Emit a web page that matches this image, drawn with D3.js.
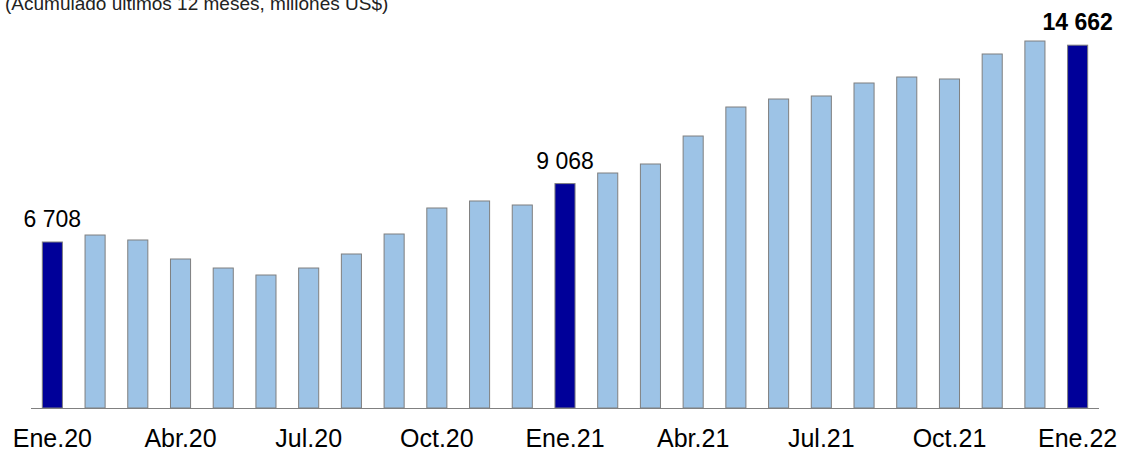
<!DOCTYPE html>
<html>
<head>
<meta charset="utf-8">
<script src="https://cdn.jsdelivr.net/npm/d3@7"></script>
<style>
  body { margin: 0; background: #fff; }
  text { font-family: "Liberation Sans", Arial, sans-serif; }
</style>
</head>
<body>
<div id="chart"></div>
<script>
// months, Ene.20 .. Ene.22
const months = ["Ene.20","Feb.20","Mar.20","Abr.20","May.20","Jun.20","Jul.20","Ago.20","Set.20","Oct.20","Nov.20","Dic.20",
                "Ene.21","Feb.21","Mar.21","Abr.21","May.21","Jun.21","Jul.21","Ago.21","Set.21","Oct.21","Nov.21","Dic.21","Ene.22"];
// accumulated last 12 months, millions US$
const values = [6708, 6990, 6789, 6021, 5657, 5374, 5657, 6223, 7031, 8082, 8365, 8203,
                9068, 9496, 9860, 10991, 12163, 12486, 12608, 13133, 13375, 13295, 14305, 14830, 14662];
const highlighted = ["Ene.20", "Ene.21", "Ene.22"];
const tickLabels = ["Ene.20","Abr.20","Jul.20","Oct.20","Ene.21","Abr.21","Jul.21","Oct.21","Ene.22"];

const width = 1124, height = 452;
const baseY = 408;

const svg = d3.select("#chart").append("svg")
    .attr("width", width)
    .attr("height", height);

const x = d3.scaleBand()
    .domain(months)
    .range([31, 1099])
    .paddingInner(0.53)
    .paddingOuter(0.265);

const y = d3.scaleLinear()
    .domain([0, 6708])
    .range([baseY, 242]);

// subtitle (cut at top)
svg.append("text")
    .attr("x", 5)
    .attr("y", 10)
    .attr("font-size", 19)
    .attr("fill", "#222")
    .text("(Acumulado últimos 12 meses, millones US$)");

const data = months.map((m, i) => ({ m: m, v: values[i] }));

svg.selectAll("rect.bar")
    .data(data)
    .enter()
    .append("rect")
    .attr("class", "bar")
    .attr("x", d => x(d.m))
    .attr("y", d => y(d.v))
    .attr("width", x.bandwidth())
    .attr("height", d => baseY - y(d.v))
    .attr("fill", d => highlighted.includes(d.m) ? "#000099" : "#9dc3e6")
    .attr("stroke", "#7f7f7f")
    .attr("stroke-width", 1);

// value labels on highlighted bars
svg.selectAll("text.val")
    .data(data.filter(d => highlighted.includes(d.m)))
    .enter()
    .append("text")
    .attr("class", "val")
    .attr("x", d => x(d.m) + x.bandwidth() / 2)
    .attr("y", d => y(d.v) - 15)
    .attr("text-anchor", "middle")
    .attr("font-size", 23)
    .attr("font-weight", d => d.m === "Ene.22" ? "bold" : "normal")
    .attr("fill", "#000")
    .text(d => d3.format(",")(d.v).replace(",", " "));

// x axis
const xAxis = d3.axisBottom(x)
    .tickValues(tickLabels)
    .tickSize(0)
    .tickPadding(21);

const gx = svg.append("g")
    .attr("transform", `translate(0,${baseY})`)
    .call(xAxis);

gx.select(".domain")
    .attr("stroke", "#808080")
    .attr("d", `M${x.range()[0]},0.5H${x.range()[1]}`);

gx.selectAll("text")
    .attr("font-size", 25)
    .attr("font-family", "Liberation Sans, Arial, sans-serif")
    .attr("fill", "#000");
</script>
</body>
</html>
